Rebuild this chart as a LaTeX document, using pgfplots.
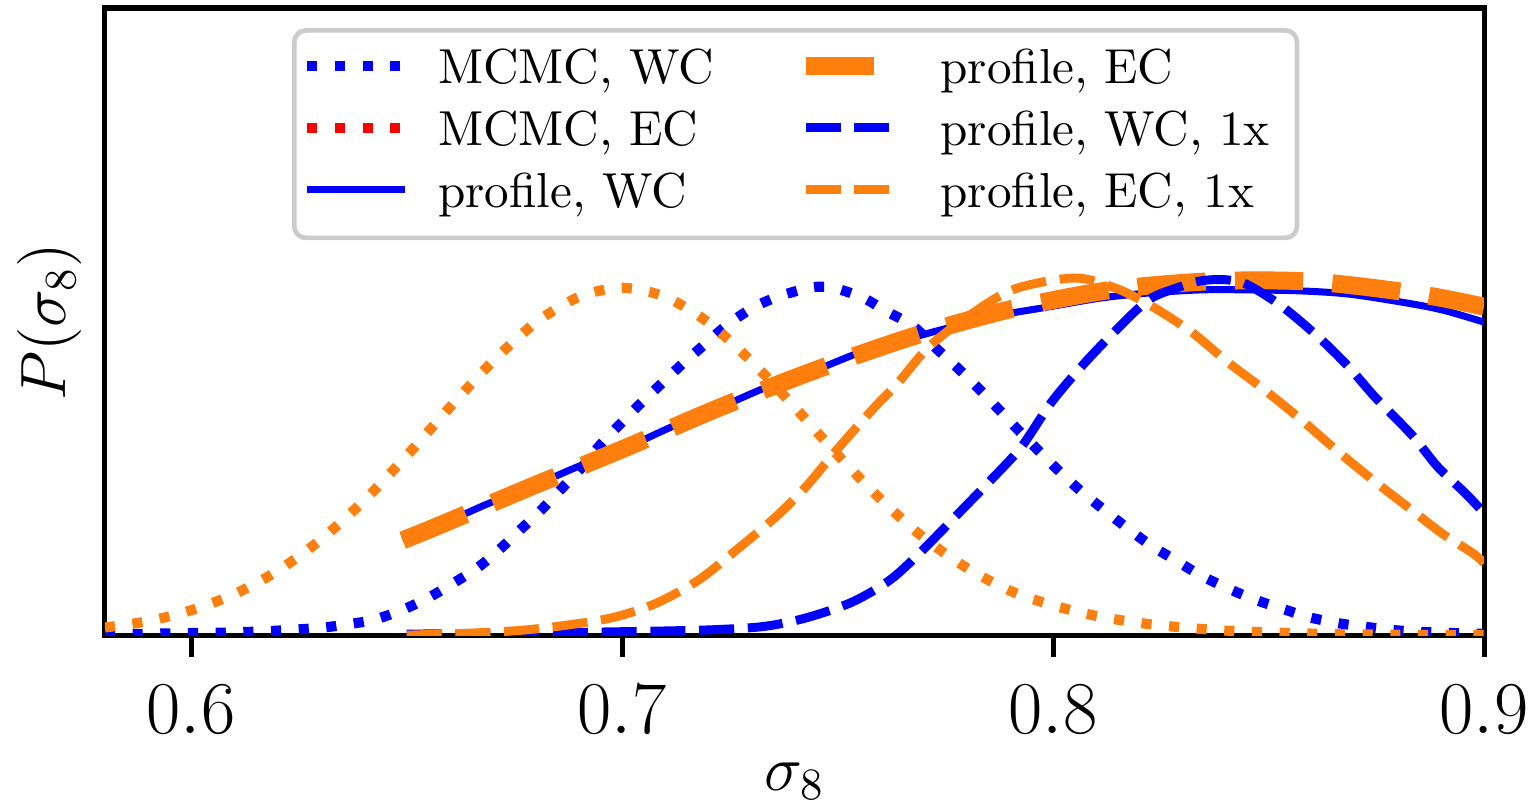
\documentclass[border=0pt]{standalone}
\usepackage{fix-cm}
\usepackage{pgfplots}
\pgfplotsset{compat=1.18}
\definecolor{mpblue}{HTML}{0000FF}
\definecolor{mporange}{HTML}{FF7F0E}
\definecolor{mpred}{HTML}{FF0000}
\definecolor{legframe}{HTML}{CCCCCC}
\font\legfont="[lmroman10-regular.otf]" at 12.6pt
\tikzset{
  dotsty/.style={line width=2.6pt, dash pattern=on 2.6pt off 4.5pt},
  thicksty/.style={line width=4.6pt, dash pattern=on 17.5pt off 7.5pt},
  dashsty/.style={line width=2.3pt, dash pattern=on 9pt off 3.5pt},
  solidsty/.style={line width=1.8pt},
}
\begin{document}
\begin{tikzpicture}
\begin{axis}[
  scale only axis, width=353.6pt, height=160.8pt,
  xmin=0.58, xmax=0.9, ymin=0, ymax=1.791,
  xtick={0.6,0.7,0.8,0.9}, xticklabels={$0.6$,$0.7$,$0.8$,$0.9$},
  ytick=\empty,
  xtick pos=bottom, xtick align=outside,
  major tick length=5.5pt,
  every tick/.style={black, line width=1.3pt},
  axis line style={line width=1.3pt, black},
  xticklabel style={font=\fontsize{19.1}{23}\selectfont, anchor=base, yshift=-19.6pt},
  xlabel={$\sigma_8$}, ylabel={$P(\sigma_8)$},
  label style={font=\fontsize{16.4}{20}\selectfont},
  xlabel style={at={(axis description cs:0.5,-0.2472)}, anchor=base},
  ylabel style={at={(axis description cs:-0.0283,0.5)}, anchor=base},
  legend columns=2, legend cell align=left,
  legend style={at={(axis description cs:0.1356,0.968)}, anchor=north west,
    draw=legframe, line width=1.2pt, rounded corners=3pt, fill=white,
    font=\legfont, inner xsep=2pt, inner ysep=3.6pt,
    row sep=1.7pt, nodes={inner sep=0pt, text height=9.9pt, text depth=4.3pt},
    /tikz/every odd column/.append style={column sep=7.3pt},
    /tikz/every even column/.append style={column sep=21.2pt}},
  legend image code/.code={\draw[#1] (0pt,1.67pt) -- (25pt,1.67pt);},
]
% MCMC, WC
\addplot[mpblue, dotsty, smooth, forget plot] coordinates {
(0.58,0.002) (0.59,0.004) (0.60,0.006) (0.61,0.008) (0.62,0.013) (0.63,0.021)
(0.6351,0.029) (0.6421,0.043) (0.6488,0.071) (0.6549,0.106) (0.6605,0.146)
(0.6663,0.191) (0.6714,0.243) (0.6763,0.300) (0.6812,0.357) (0.6856,0.414)
(0.6905,0.477) (0.6949,0.543) (0.6998,0.606) (0.7044,0.663) (0.7093,0.720)
(0.7142,0.777) (0.7195,0.834) (0.7244,0.886) (0.7302,0.934) (0.7360,0.966)
(0.7430,0.991) (0.7463,0.995) (0.7495,0.991) (0.7560,0.963) (0.7616,0.923)
(0.7674,0.884) (0.7728,0.820) (0.7776,0.766) (0.7826,0.706) (0.7872,0.647)
(0.7919,0.586) (0.7967,0.526) (0.8016,0.466) (0.8065,0.411) (0.8119,0.357)
(0.8172,0.306) (0.8226,0.257) (0.8284,0.214) (0.8342,0.171) (0.8405,0.134)
(0.8465,0.103) (0.8528,0.077) (0.8595,0.051) (0.8663,0.034) (0.8730,0.023)
(0.8795,0.014) (0.8863,0.009) (0.8930,0.006) (0.90,0.004)
};
% MCMC, EC
\addplot[mporange, dotsty, smooth, forget plot] coordinates {
(0.58,0.022) (0.59,0.040) (0.60,0.071) (0.61,0.117) (0.62,0.183) (0.63,0.272)
(0.64,0.383) (0.65,0.512) (0.66,0.650) (0.67,0.782) (0.68,0.893) (0.69,0.966)
(0.70,0.992) (0.71,0.966) (0.72,0.893) (0.73,0.782) (0.74,0.652) (0.75,0.515)
(0.76,0.388) (0.77,0.278) (0.78,0.192) (0.79,0.127) (0.80,0.085) (0.81,0.055)
(0.82,0.035) (0.83,0.022) (0.84,0.013) (0.85,0.008) (0.86,0.0045) (0.87,0.0025)
(0.88,0.0013) (0.89,0.0007) (0.90,0.0004)
};
% profile, WC
\addplot[mpblue, solidsty, smooth, forget plot] coordinates {
(0.6491,0.271) (0.6577,0.314) (0.6686,0.374) (0.6793,0.426) (0.6895,0.480)
(0.7012,0.537) (0.7119,0.597) (0.7228,0.651) (0.7337,0.709) (0.7449,0.757)
(0.7560,0.811) (0.7677,0.851) (0.7756,0.877) (0.7879,0.914) (0.7988,0.937)
(0.8112,0.963) (0.8221,0.977) (0.8344,0.986) (0.8453,0.986) (0.8577,0.983)
(0.8686,0.974) (0.8809,0.951) (0.8902,0.929) (0.90,0.894)
};
% profile, EC
\addplot[mporange, thicksty, smooth, forget plot] coordinates {
(0.6491,0.271) (0.6577,0.314) (0.6793,0.426) (0.7012,0.537) (0.7228,0.651)
(0.7449,0.757) (0.7677,0.854) (0.7902,0.931) (0.8135,0.986) (0.8374,1.011)
(0.8607,1.009) (0.8849,0.974) (0.90,0.938)
};
% profile, WC, 1x
\addplot[mpblue, dashsty, smooth, forget plot] coordinates {
(0.65,0.003) (0.67,0.005) (0.69,0.008) (0.71,0.012) (0.722,0.016) (0.733,0.025)
(0.7426,0.049) (0.7533,0.094) (0.7621,0.157) (0.7691,0.235) (0.7788,0.357)
(0.7851,0.437) (0.7926,0.537) (0.7995,0.663) (0.8065,0.766) (0.8142,0.866)
(0.8221,0.957) (0.8288,0.992) (0.8344,1.012) (0.8400,1.015) (0.8449,1.002)
(0.8530,0.940) (0.8616,0.851) (0.8686,0.766) (0.8747,0.680) (0.8833,0.571)
(0.8893,0.480) (0.8956,0.406) (0.90,0.349)
};
% profile, EC, 1x
\addplot[mporange, dashsty, smooth, forget plot] coordinates {
(0.65,0.000) (0.6651,0.006) (0.6767,0.014) (0.6874,0.029) (0.6981,0.051)
(0.7079,0.091) (0.7177,0.157) (0.7265,0.243) (0.7356,0.337) (0.7426,0.423)
(0.7498,0.529) (0.7586,0.651) (0.7640,0.720) (0.7709,0.820) (0.7791,0.900)
(0.7905,0.986) (0.8050,1.020) (0.8147,0.990) (0.8228,0.940) (0.8321,0.866)
(0.8405,0.780) (0.8491,0.700) (0.8577,0.614) (0.8653,0.533) (0.8742,0.443)
(0.8823,0.366) (0.8902,0.291) (0.8974,0.234) (0.90,0.206)
};
\addlegendimage{mpblue, dotsty}
\addlegendentry{MCMC, WC}
\addlegendimage{mporange, thicksty}
\addlegendentry{profile, EC}
\addlegendimage{mpred, dotsty}
\addlegendentry{MCMC, EC}
\addlegendimage{mpblue, dashsty}
\addlegendentry{profile, WC, 1x\hspace*{5pt}}
\addlegendimage{mpblue, solidsty}
\addlegendentry{profile, WC}
\addlegendimage{mporange, dashsty}
\addlegendentry{profile, EC, 1x}
\coordinate (bl) at (rel axis cs:0,0);
\coordinate (tr) at (rel axis cs:1,1);
\end{axis}
\pgfresetboundingbox
\path[use as bounding box] ([xshift=-26.9pt,yshift=-43.8pt]bl) rectangle ([xshift=12.3pt,yshift=2.05pt]tr);
\end{tikzpicture}
\end{document}
